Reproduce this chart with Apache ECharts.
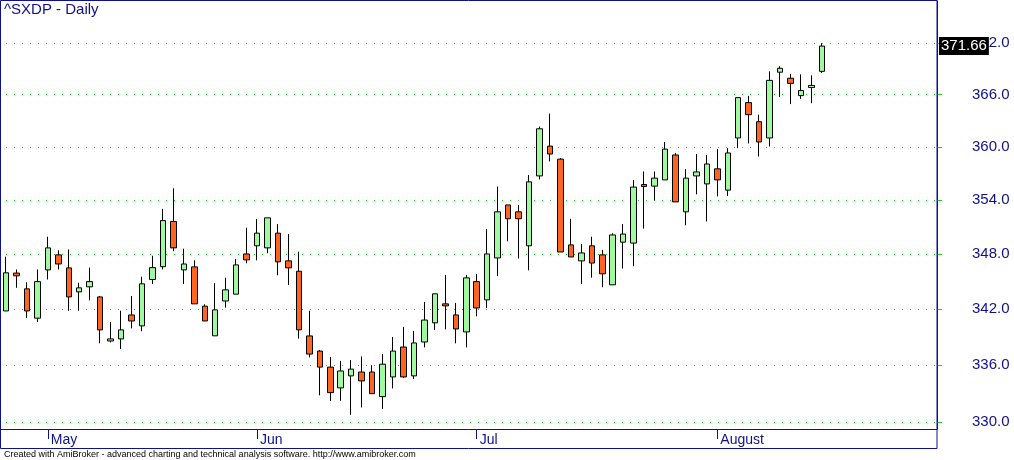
<!DOCTYPE html>
<html><head><meta charset="utf-8">
<script src="https://cdn.jsdelivr.net/npm/echarts@6/dist/echarts.min.js"></script>
<style>html,body{margin:0;padding:0;background:#fff}#c{width:1014px;height:460px}</style>
</head><body><div id="c"></div>
<script>
const chartTitle = '^SXDP - Daily';
const footerText = 'Created with AmiBroker - advanced charting and technical analysis software. http://www.amibroker.com';
const year = 2008;
const aprDays = [25, 28, 29, 30];
const mayDays = [2, 5, 6, 7, 8, 9, 13, 14, 15, 16, 19, 20, 21, 22, 23, 26, 27, 28, 29, 30];
const junDays = [2, 3, 4, 5, 6, 9, 10, 11, 12, 13, 16, 17, 18, 19, 20, 23, 24, 25, 26, 27, 30];
const julDays = [1, 2, 3, 4, 7, 8, 9, 10, 11, 14, 15, 16, 17, 18, 21, 22, 23, 24, 25, 28, 29, 30, 31];
const augDays = [1, 4, 5, 6, 7, 8, 11, 12, 13, 14, 15, 18, 19, 20, 21, 22, 25, 26, 27, 28, 29];
const sepDays = [1];
const monthTickIndex = [4, 24, 45, 68];
const monthLabels = ['May', 'Jun', 'Jul', 'August'];
const yTicks = [330, 336, 342, 348, 354, 360, 366, 372];

const opens = [341.78,345.9,344.18,341.0,346.25,347.9,346.47,343.85,344.4,343.3,338.55,338.77,341.35,340.17,345.2,346.6,351.6,346.25,346.58,342.3,339.1,342.86,343.6,348.0,348.9,348.67,350.3,347.24,346.1,339.09,337.47,335.76,333.56,334.83,335.24,335.24,332.64,334.72,337.9,334.83,338.44,340.5,342.55,341.35,339.52,344.97,342.98,347.56,353.44,352.67,348.9,356.7,360.08,358.6,349.0,347.24,348.9,347.9,344.62,349.3,349.2,355.73,355.55,356.25,359.07,352.67,356.7,355.8,357.5,355.1,361.01,365.07,362.87,361.01,368.6,367.9,365.88,366.82,368.7];
const closes = [345.93,345.6,341.78,344.97,348.67,346.9,343.3,344.29,344.97,339.74,338.77,339.74,340.7,344.73,346.5,351.7,348.67,346.9,342.55,340.7,341.9,344.07,346.8,347.35,350.3,352.0,347.13,346.47,339.74,337.15,335.76,333.06,335.35,335.55,334.3,332.95,336.07,337.47,334.72,338.34,340.8,343.64,342.33,339.84,345.38,342.1,348.0,352.67,351.9,351.9,356.03,362.06,359.18,348.22,347.67,348.11,347.0,345.82,350.1,350.2,355.44,355.5,356.45,359.74,353.78,356.45,357.15,358.05,356.25,359.3,365.65,363.68,360.55,367.65,369.06,367.3,366.47,367.06,371.66];
const lows = [341.78,344.3,341.03,340.6,345.2,346.3,341.8,341.8,342.93,338.3,338.4,337.7,339.9,339.6,344.7,346.3,348.3,344.7,342.55,340.7,339.1,342.14,343.6,346.97,347.3,348.07,345.67,344.6,338.8,336.8,332.78,332.18,332.2,330.73,331.5,332.95,331.35,333.5,334.6,334.5,337.86,339.74,339.8,338.3,337.86,341.2,342.1,345.56,349.4,347.5,346.2,356.3,358.34,348.22,347.67,344.7,345.4,344.36,344.62,346.4,346.65,350.8,353.96,356.25,353.78,351.18,354.63,351.6,354.4,354.45,359.85,360.38,358.9,360.03,365.72,364.9,365.5,365.0,368.5];
const highs = [347.7,346.3,344.9,346.3,349.9,348.4,348.5,344.84,346.5,343.4,340.6,341.8,343.4,345.5,347.8,353.0,355.3,348.58,347.3,342.5,344.8,345.4,347.45,350.9,351.87,352.0,351.3,350.2,348.25,341.8,337.6,336.83,336.42,336.5,336.9,335.97,337.15,338.98,340.06,339.63,342.76,343.64,345.7,342.65,345.7,345.8,350.76,355.5,353.44,353.44,356.8,362.32,363.8,358.73,351.89,349.1,349.9,348.45,350.3,351.3,356.22,357.2,357.2,360.55,359.3,357.47,359.18,359.07,359.74,359.85,365.65,365.84,363.68,368.7,369.3,368.4,368.35,368.24,372.0];

const pad2 = n => (n < 10 ? '0' : '') + n;
const categories = [];
[[4, aprDays], [5, mayDays], [6, junDays], [7, julDays], [8, augDays], [9, sepDays]].forEach(([m, days]) => {
  days.forEach(d => categories.push(year + '-' + pad2(m) + '-' + pad2(d)));
});
const candles = opens.map((o, i) => [o, closes[i], lows[i], highs[i]]);
const lastClose = closes[closes.length - 1];

const NAVY = '#10108c';
const GRID_GREEN = '#22cc22';
const FONT = 'Liberation Sans, Arial, sans-serif';
const chart = echarts.init(document.getElementById('c'), null, { renderer: 'canvas' });
chart.setOption({
  animation: false,
  backgroundColor: '#fff',
  title: [
    { text: chartTitle, left: 4, top: 2, padding: 0,
      textStyle: { fontFamily: FONT, fontSize: 15, fontWeight: 'normal', color: NAVY } },
    { text: footerText, left: 4, top: 450, padding: 0,
      textStyle: { fontFamily: FONT, fontSize: 9, fontWeight: 'normal', color: '#000' } }
  ],
  grid: { left: 6, right: 77, top: 1, bottom: 31, containLabel: false },
  xAxis: {
    type: 'category', data: categories, boundaryGap: false,
    axisLine: { show: false },
    axisTick: { show: true, length: 10, interval: (i) => monthTickIndex.indexOf(i) >= 0,
      lineStyle: { color: NAVY, width: 1 } },
    axisLabel: { show: true, interval: (i) => monthTickIndex.indexOf(i) >= 0,
      formatter: (v, i) => monthLabels[monthTickIndex.indexOf(i)] || '',
      align: 'left', margin: 4, padding: [0, 0, 0, 3],
      fontFamily: FONT, fontSize: 14, color: NAVY },
    splitLine: { show: false }
  },
  yAxis: {
    type: 'log', logBase: 10, position: 'right', min: 329.25, max: 377.0, scale: true,
    axisLine: { show: true, lineStyle: { color: NAVY } },
    axisTick: { show: true, inside: false, length: 5, customValues: yTicks, lineStyle: { color: GRID_GREEN } },
    axisLabel: { show: true, customValues: yTicks, formatter: v => Number(v).toFixed(1),
      margin: 35, align: 'left', fontFamily: FONT, fontSize: 15, color: NAVY },
    splitLine: { show: false }
  },
  series: [
    {
      name: 'grid', type: 'line', data: [], silent: true, z: 1,
      markLine: {
        silent: true, symbol: ['none', 'none'], animation: false, z: 1,
        lineStyle: { color: GRID_GREEN, width: 1, type: [1, 7] },
        label: { show: false },
        data: yTicks.map(v => ({ yAxis: v }))
      }
    },
    {
      name: '^SXDP', type: 'candlestick', data: candles, barWidth: 6, clip: false, z: 3,
      itemStyle: { color: '#9ff99f', color0: '#ff6420', borderColor: '#000', borderColor0: '#000', borderWidth: 1 },
      markLine: {
        silent: true, symbol: ['none', 'none'], animation: false, z: 10,
        lineStyle: { color: 'rgba(0,0,0,0)', width: 1, type: 'solid' },
        data: [{ yAxis: lastClose }],
        label: { show: true, position: 'end', distance: 2,
          formatter: () => lastClose.toFixed(2),
          backgroundColor: '#000', color: '#fff', padding: [2, 2, 1, 2],
          fontFamily: FONT, fontSize: 15 }
      }
    }
  ],
  graphic: [
    { type: 'rect', silent: true, z: 100,
      shape: { x: 0.5, y: 0.5, width: 936.5, height: 448 },
      style: { fill: null, stroke: NAVY, lineWidth: 1 } },
    { type: 'line', silent: true, z: 100,
      shape: { x1: 0.5, y1: 429.5, x2: 937, y2: 429.5 },
      style: { stroke: NAVY, lineWidth: 1 } }
  ]
});
</script></body></html>
